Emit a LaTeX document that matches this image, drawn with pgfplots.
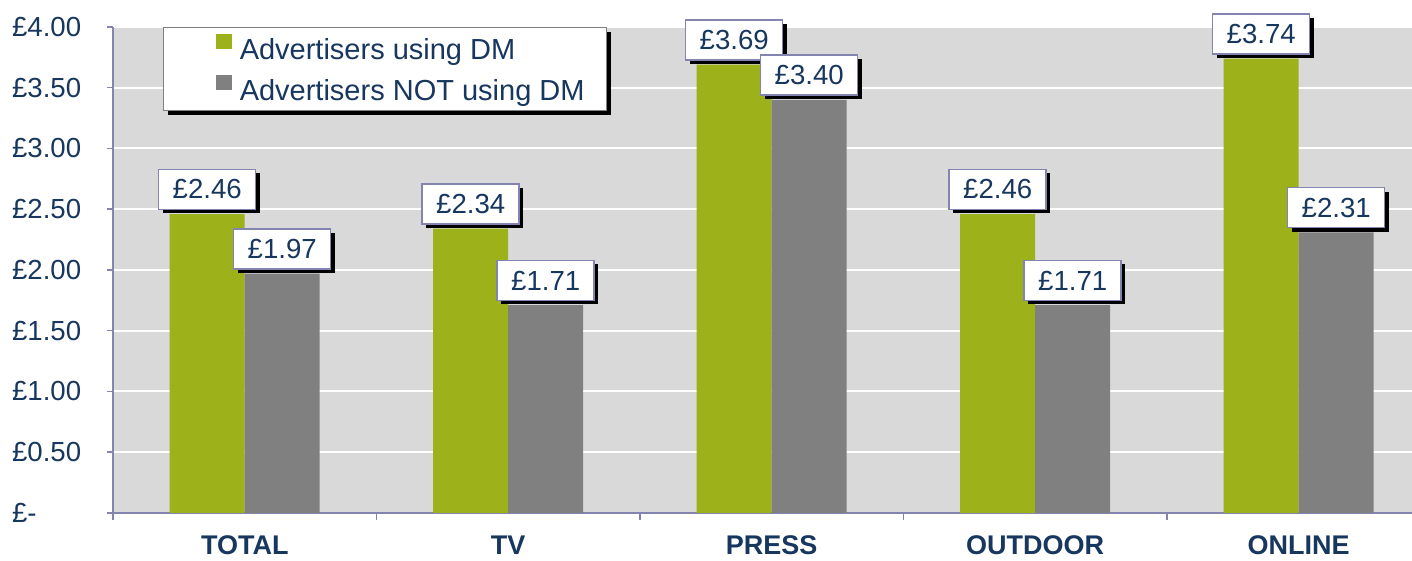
\documentclass[border=0pt]{standalone}
\usepackage{pgfplots}
\pgfplotsset{compat=1.18}
\usepackage{fontspec}
\setmainfont{Liberation Sans}
\usetikzlibrary{shadows}
\definecolor{barGreen}{HTML}{9DB21A}
\definecolor{barGray}{HTML}{808080}
\definecolor{bgGray}{HTML}{D9D9D9}
\definecolor{navy}{HTML}{17375E}
\definecolor{lav}{HTML}{8484B0}

\begin{document}
\begin{tikzpicture}
\begin{axis}[
    at={(0,0)}, anchor=south west,
    scale only axis,
    width=649.5pt, height=243pt,
    ybar=0pt, bar width=37.5pt,
    xmin=-0.5, xmax=4.43, ymin=0, ymax=4,
    axis background/.style={fill=bgGray},
    axis lines*=left,
    axis line style={lav, line width=0.75pt},
    tick align=outside,
    major tick length=3pt, minor tick length=3.5pt,
    ytick={0,0.5,1,1.5,2,2.5,3,3.5,4},
    yticklabels={£-, £0.50, £1.00, £1.50, £2.00, £2.50, £3.00, £3.50, £4.00},
    xtick={0,1,2,3,4},
    xticklabels={TOTAL, TV, PRESS, OUTDOOR, ONLINE},
    minor xtick={-0.5,0.5,1.5,2.5,3.5},
    every major x tick/.append style={draw=none},
    every tick/.append style={lav, line width=0.75pt},
    ymajorgrids,
    major grid style={white, line width=1pt},
    yticklabel style={anchor=west, xshift=-51pt, font=\fontsize{13.8}{16}\selectfont, text=navy},
    xticklabel style={font=\bfseries\fontsize{13.5}{16}\selectfont, text=navy, yshift=-5pt},
    nodes near coords,
    point meta=explicit symbolic,
    every node near coord/.append style={
        font=\fontsize{13.8}{16}\selectfont, text=navy, fill=white, draw=lav,
        line width=0.75pt, minimum width=48.5pt, minimum height=20pt,
        inner sep=0pt, yshift=2pt,
        drop shadow={shadow xshift=2pt, shadow yshift=-2pt, fill=black, opacity=1}},
    legend cell align=left,
    legend style={
        at={(0,1)}, anchor=north west, xshift=25pt,
        draw=barGray, line width=0.75pt, fill=white,
        font=\fontsize{14.5}{17}\selectfont, text=navy,
        inner xsep=7pt, inner ysep=0.25pt, row sep=0pt,
        nodes={text height=13.45pt, text depth=3.05pt, inner ysep=2pt, inner xsep=4pt},
        drop shadow={shadow xshift=2pt, shadow yshift=-2pt, fill=black, opacity=1}},
  ]

  \addplot[fill=barGreen, draw=none,
    legend image code/.code={
        \pgfpathrectangle{\pgfpoint{0pt}{0pt}}{\pgfpoint{0pt}{0pt}}\pgfusepath{}
        \pgfsetfillcolor{barGreen}
        \pgfpathrectangle{\pgfpoint{19pt}{0pt}}{\pgfpoint{8pt}{7.2pt}}
        \pgfusepath{fill}}
  ] coordinates {
    (0,2.46) [£2.46]
    (1,2.34) [£2.34]
    (2,3.69) [£3.69]
    (3,2.46) [£2.46]
    (4,3.74) [£3.74]
  };
  \addlegendentry{Advertisers using DM}

  \addplot[fill=barGray, draw=none,
    legend image code/.code={
        \pgfpathrectangle{\pgfpoint{0pt}{0pt}}{\pgfpoint{0pt}{0pt}}\pgfusepath{}
        \pgfsetfillcolor{barGray}
        \pgfpathrectangle{\pgfpoint{19pt}{0pt}}{\pgfpoint{8pt}{7.2pt}}
        \pgfusepath{fill}}
  ] coordinates {
    (0,1.97) [£1.97]
    (1,1.71) [£1.71]
    (2,3.40) [£3.40]
    (3,1.71) [£1.71]
    (4,2.31) [£2.31]
  };
  \addlegendentry{Advertisers NOT using DM}

\end{axis}
\pgfresetboundingbox
\useasboundingbox (-56.5pt,-24pt) rectangle (649.5pt,256.5pt);
\end{tikzpicture}
\end{document}
